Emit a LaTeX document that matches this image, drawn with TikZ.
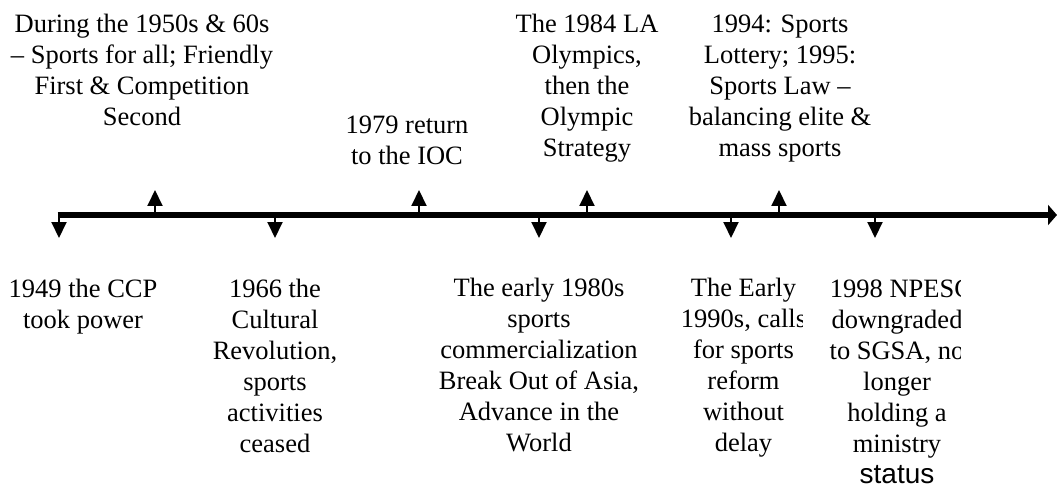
\documentclass[tikz,border=0pt]{standalone}
\usepackage{fontspec}
\setmainfont{Liberation Serif}
\newfontfamily\sansfam{Liberation Sans}
\usetikzlibrary{arrows.meta}
\begin{document}
\begin{tikzpicture}[x=1pt,y=-1pt,
  lbl/.style={align=center, inner sep=0pt, anchor=north, font=\fontsize{26.5}{31}\selectfont},
  tickarrow/.style={line width=2pt, -{Triangle[width=15pt,length=16pt]}},
  axisline/.style={line width=5pt, -{Triangle[width=20pt,length=9pt]}}]
\useasboundingbox (0,0) rectangle (1057,489);
% axis
\coordinate (L) at (57.5,215);
\coordinate (R) at (1057,215);
\draw[axisline] (L) -- (R);
% ticks on the axis and their tips
\foreach \n/\x/\y in {d1/59/238, u1/155/190, d2/275/238, u2/419/190, d3/539/238, u3/587/190, d4/731/238, u4/779/190, d5/875/238}{
  \coordinate (a\n) at (\x,215);
  \coordinate (e\n) at (\x,\y);
  \draw[tickarrow] (a\n) -- (e\n);
}
% labels above
\node[lbl] (T1) at (142,10.3) {\strut During the 1950s \& 60s\\ – Sports for all; Friendly\\ First \& Competition\\ Second};
\node[lbl] (T2) at (407,111.3) {\strut 1979 return\\ to the IOC};
\node[lbl] (T3) at (587,10.3) {\strut The 1984 LA\\ Olympics,\\ then the\\ Olympic\\ Strategy};
\node[lbl] (T4) at (780,10.3) {\strut 1994: Sports\\ Lottery; 1995:\\ Sports Law –\\ balancing elite \&\\ mass sports};
% labels below
\node[lbl] (B1) at (83,275.3) {\strut 1949 the CCP\\ took power};
\node[lbl] (B2) at (275,275.3) {\strut 1966 the\\ Cultural\\ Revolution,\\ sports\\ activities\\ ceased};
\node[lbl] (B3) at (539,274.3) {\strut The early 1980s\\ sports\\ commercialization\\ Break Out of Asia,\\ Advance in the\\ World};
\begin{scope}
  \clip (600,250) rectangle (802.5,489);
  \node[lbl] (B4) at (743.5,274.3) {\strut The Early\\ 1990s, calls\\ for sports\\ reform\\ without\\ delay};
\end{scope}
\begin{scope}
  \clip (800,250) rectangle (960,489);
  \node[lbl] (B5) at (897,275.3) {\strut\hspace*{8pt}1998 NPESC\\ downgraded\\ to SGSA, no\\ longer\\ holding a\\ ministry\\ {\sansfam\fontsize{28}{31}\selectfont status}};
\end{scope}
\end{tikzpicture}
\end{document}
